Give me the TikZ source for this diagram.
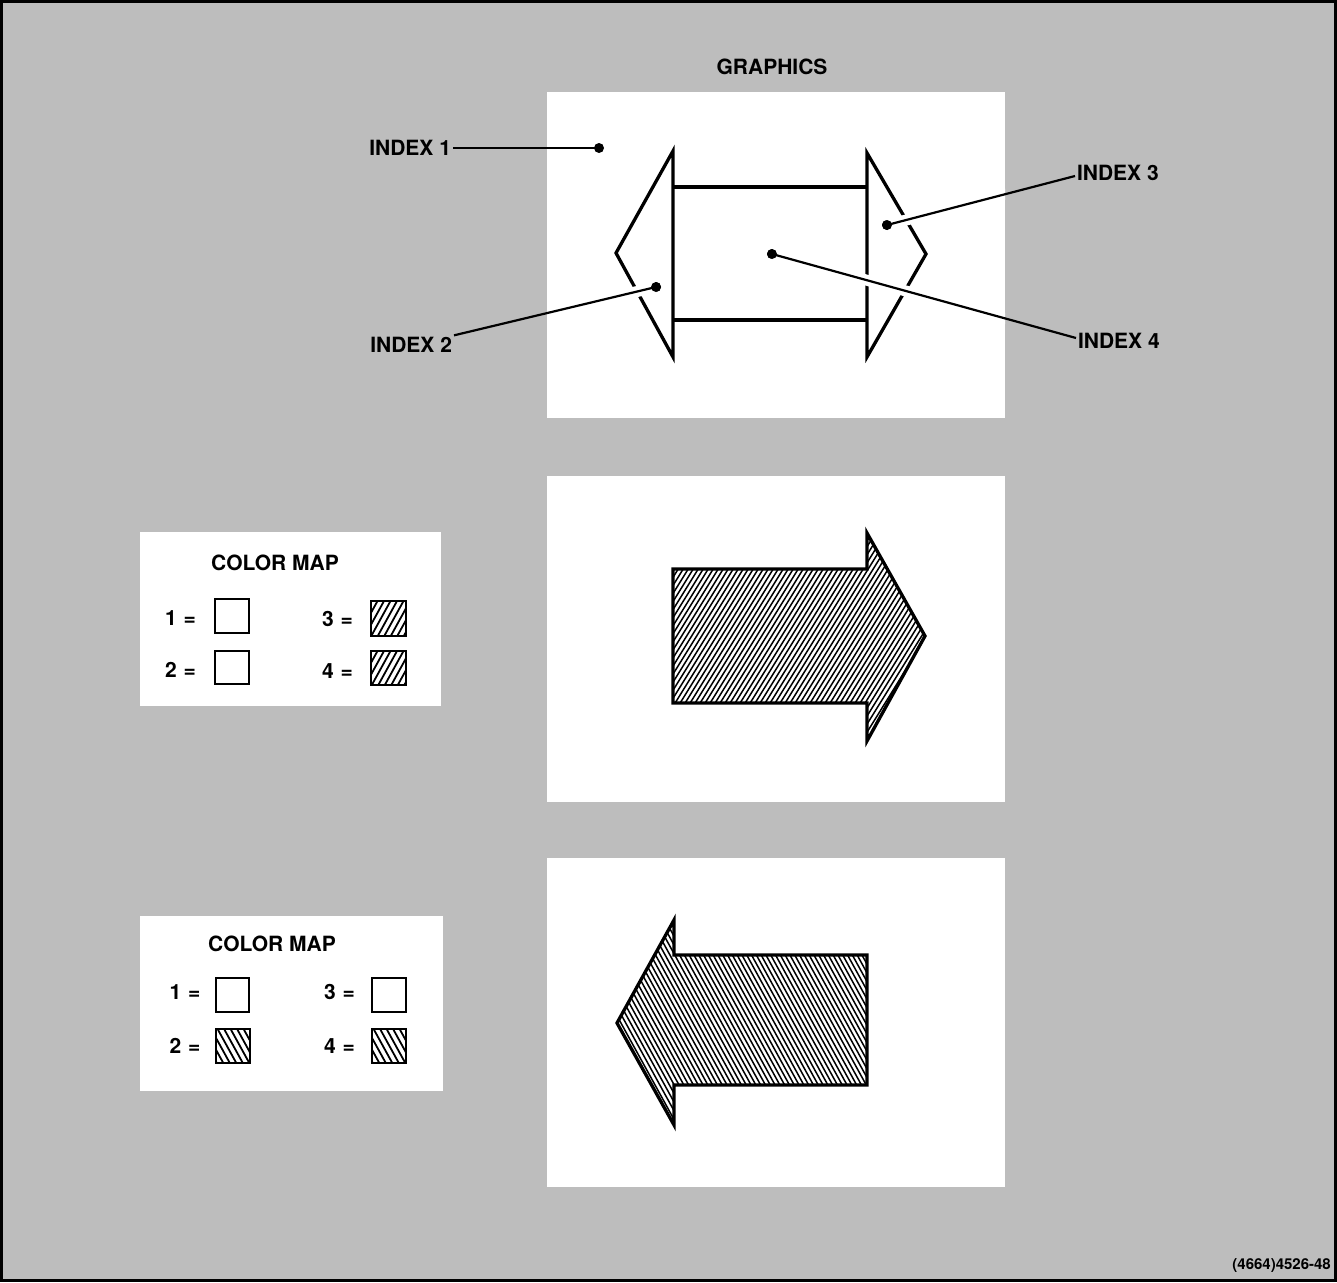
\documentclass[tikz,border=0pt]{standalone}
\usepackage{fontspec}
\setmainfont{TeX Gyre Heros}
\usetikzlibrary{calc}
\definecolor{bggray}{gray}{0.74}

% Diagonal hatching inside a box: xmin, xmax, ytop, ybot, spacing,
% run per unit of height, direction (+1 rising, -1 falling), line width
\newcommand{\hatchrect}[8]{%
  \pgfmathsetmacro\hatchH{(#4-#3)*#6}%
  \pgfmathsetmacro\hatchX{#1-\hatchH}%
  \pgfmathtruncatemacro\hatchN{(#2-#1+2*\hatchH)/#5+1}%
  \foreach \k in {0,...,\hatchN}{%
    \pgfmathsetmacro\hatchK{\hatchX+\k*#5}%
    \draw[line width=#8] (\hatchK,#4) -- ({\hatchK+(#7)*\hatchH},#3);
  }%
}

\begin{document}
\begin{tikzpicture}[x=1pt,y=-1pt,
  label/.style={font=\fontsize{21}{25}\selectfont\bfseries, inner sep=0pt, outer sep=2pt},
  shapeline/.style={line width=3.3pt, line join=miter},
  leader/.style={line width=2.2pt},
  halo/.style={line width=11pt, white},
  dot/.style={circle, fill=black, inner sep=0pt, minimum size=10pt},
  mapbox/.style={draw, line width=2.8pt, line join=miter}
]
% page, background and frame
\useasboundingbox (0,0) rectangle (1337,1282);
\fill[bggray] (0,0) rectangle (1337,1282);
\draw[line width=3pt] (1.5,1.5) rectangle (1335.5,1280.5);

% white panels
\fill[white] (547,92) rectangle (1005,418);
\fill[white] (547,476) rectangle (1005,802);
\fill[white] (547,858) rectangle (1005,1187);
\fill[white] (140,532) rectangle (441,706);
\fill[white] (140,916) rectangle (443,1091);

% ---------- top panel: outline figure with indices ----------
\node[label] (title) at (772,67) {GRAPHICS};

\draw[shapeline] (673,357) -- (616,253) -- (673,151) -- cycle;
\draw[shapeline] (867,357) -- (926,254) -- (867,153) -- cycle;
\draw[shapeline] (673,187) -- (867,187);
\draw[shapeline] (673,320) -- (867,320);

\node[label, anchor=east] (i1) at (453,148) {INDEX 1};
\node[label, anchor=east] (i2) at (454,345) {INDEX 2};
\node[label, anchor=west] (i3) at (1075,173) {INDEX 3};
\node[label, anchor=west] (i4) at (1076,341) {INDEX 4};

\node[dot] (d1) at (599,148) {};
\node[dot] (d2) at (656,287) {};
\node[dot] (d3) at (887,225) {};
\node[dot] (d4) at (772,254) {};

\coordinate (e3) at ($(i3.west)+(0,3)$);
\coordinate (e4) at ($(i4.west)+(0,-3)$);

% white knock-out under the leaders where they cross the outline
\begin{scope}
  \clip (547,92) rectangle (1005,418);
  \draw[halo] (d2.center) -- (i2.north east);
  \draw[halo] (d3.center) -- (e3);
  \draw[halo] (d4.center) -- (e4);
\end{scope}
\node[dot] at (d2) {};
\node[dot] at (d3) {};
\node[dot] at (d4) {};

\draw[leader] (i1.east) -- (d1.center);
\draw[leader] (d2.center) -- (i2.north east);
\draw[leader] (d3.center) -- (e3);
\draw[leader] (d4.center) -- (e4);

% ---------- middle panel: right-pointing arrow ----------
\draw[shapeline, path picture={\hatchrect{673}{928}{529}{745}{5}{0.62}{1}{1.5pt}}]
  (673,569) -- (867,569) -- (867,533) -- (925,636) -- (867,741) -- (867,703) -- (673,703) -- cycle;

% ---------- bottom panel: left-pointing arrow ----------
\draw[shapeline, path picture={\hatchrect{614}{867}{916}{1129}{4.8}{0.55}{-1}{1.5pt}}]
  (867,955) -- (674,955) -- (674,920) -- (617,1023) -- (674,1125) -- (674,1085) -- (867,1085) -- cycle;

% ---------- first colour map ----------
\node[label] (cm1) at (275,563) {COLOR MAP};
\node[label] (a1) at (180.5,618) {1\hspace{7pt}=};
\node[label] (a2) at (180.5,670) {2\hspace{7pt}=};
\node[label] (a3) at (337.5,619) {3\hspace{7pt}=};
\node[label] (a4) at (337.5,671) {4\hspace{7pt}=};
\draw[mapbox] (215,599) rectangle (249,633);
\draw[mapbox] (215,651) rectangle (249,684);
\draw[mapbox, path picture={\hatchrect{371}{406}{601}{636}{6.5}{0.55}{1}{1.8pt}}] (371,601) rectangle (406,636);
\draw[mapbox, path picture={\hatchrect{371}{406}{651}{685}{6.5}{0.55}{1}{1.8pt}}] (371,651) rectangle (406,685);

% ---------- second colour map ----------
\node[label] (cm2) at (272,944) {COLOR MAP};
\node[label] (b1) at (185,992) {1\hspace{7pt}=};
\node[label] (b2) at (185,1046) {2\hspace{7pt}=};
\node[label] (b3) at (339.5,992) {3\hspace{7pt}=};
\node[label] (b4) at (339.5,1046) {4\hspace{7pt}=};
\draw[mapbox] (216,978) rectangle (249,1012);
\draw[mapbox, path picture={\hatchrect{216}{250}{1029}{1063}{6.5}{0.55}{-1}{1.8pt}}] (216,1029) rectangle (250,1063);
\draw[mapbox] (372,978) rectangle (406,1012);
\draw[mapbox, path picture={\hatchrect{372}{406}{1029}{1063}{6.5}{0.55}{-1}{1.8pt}}] (372,1029) rectangle (406,1063);

% figure number
\node[font=\fontsize{15}{18}\selectfont\bfseries, inner sep=0pt, anchor=east] (fig) at (1331,1266) {(4664)4526-48};
\end{tikzpicture}
\end{document}
